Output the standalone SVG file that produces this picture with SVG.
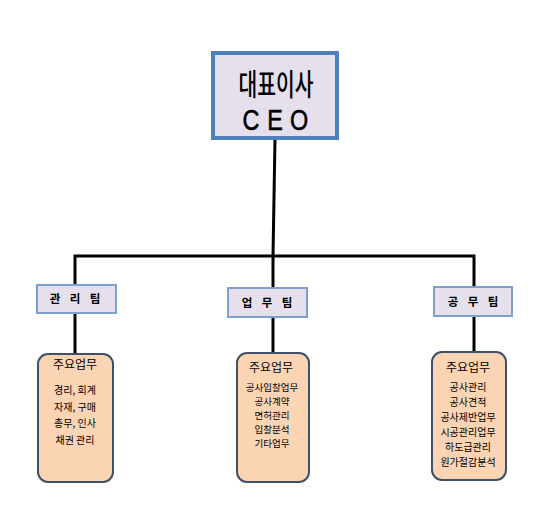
<svg xmlns="http://www.w3.org/2000/svg" width="550" height="523" viewBox="0 0 550 523">
<style>
.ceo{fill:#e6e0ec;stroke:#4f81bd;stroke-width:4}
.ceot{font-family:"Noto Sans CJK KR","Liberation Sans",sans-serif;font-size:30px;font-weight:500;fill:#000;text-anchor:middle}
.ceoe{font-family:"Liberation Sans",sans-serif;font-size:30px;fill:#000;text-anchor:middle}
.team{fill:#e6e0ec;stroke:#7f9fcf;stroke-width:2}
.teamt{font-family:"Noto Sans CJK KR",sans-serif;font-size:11.5px;font-weight:bold;fill:#000;text-anchor:middle}
.task{fill:#fbd4b4;stroke:#3f5168;stroke-width:2}
.tt{font-family:"Noto Sans CJK KR",sans-serif;font-size:12px;fill:#000;text-anchor:middle}
.ti{font-family:"Noto Sans CJK KR",sans-serif;font-size:10px;fill:#000;text-anchor:middle}
.ti2{font-family:"Noto Sans CJK KR",sans-serif;font-size:9.5px;fill:#000;text-anchor:middle}
.ln{fill:none;stroke:#000;stroke-width:3}
</style>
<rect width="550" height="523" fill="#fff"/>
<g id="connectors">
<path class="ln" d="M275 139 L273 256"/>
<path class="ln" d="M75 285 V256 H474 V287"/>
<path class="ln" d="M273 256 V288"/>
<path class="ln" d="M75 313 V354"/>
<path class="ln" d="M273 317 V353"/>
<path class="ln" d="M474 316 V352"/>
</g>
<g id="ceo">
<rect class="ceo" x="213" y="53" width="124" height="85"/>
<text class="ceot" transform="translate(276,95) scale(0.68,1)" x="0" y="0">대표이사</text>
<text class="ceoe" transform="translate(275,130) scale(0.78,1)" x="-31 0 31" y="0" stroke="#000" stroke-width="0.6">CEO</text>
</g>
<g id="team1">
<rect class="team" x="37" y="285" width="79" height="28"/>
<text class="teamt" x="55 75 95" y="303">관리팀</text>
</g>
<g id="team2">
<rect class="team" x="228" y="288" width="79" height="29"/>
<text class="teamt" x="247 267 287" y="307">업무팀</text>
</g>
<g id="team3">
<rect class="team" x="434" y="287" width="78" height="29"/>
<text class="teamt" x="453 473 493" y="306">공무팀</text>
</g>
<g id="task1">
<rect class="task" x="38" y="354" width="75" height="128" rx="10"/>
<text class="tt" x="75" y="369">주요업무</text>
<text class="ti" x="75" y="394">경리, 회계</text>
<text class="ti" x="75" y="411">자재, 구매</text>
<text class="ti" x="75" y="427">총무, 인사</text>
<text class="ti" x="75" y="444">채권  관리</text>
</g>
<g id="task2">
<rect class="task" x="237" y="353" width="72" height="129" rx="10"/>
<text class="tt" x="271" y="372">주요업무</text>
<text class="ti2" x="272" y="391">공사입찰업무</text>
<text class="ti2" x="272" y="405">공사계약</text>
<text class="ti2" x="272" y="419">면허관리</text>
<text class="ti2" x="272" y="433">입찰분석</text>
<text class="ti2" x="272" y="447">기타업무</text>
</g>
<g id="task3">
<rect class="task" x="432" y="352" width="74" height="128" rx="10"/>
<text class="tt" x="468" y="372">주요업무</text>
<text class="ti" x="468" y="391">공사관리</text>
<text class="ti" x="468" y="406">공사견적</text>
<text class="ti" x="468" y="421">공사제반업무</text>
<text class="ti" x="468" y="436">시공관리업무</text>
<text class="ti" x="468" y="451">하도급관리</text>
<text class="ti" x="468" y="466">원가절감분석</text>
</g>
</svg>
